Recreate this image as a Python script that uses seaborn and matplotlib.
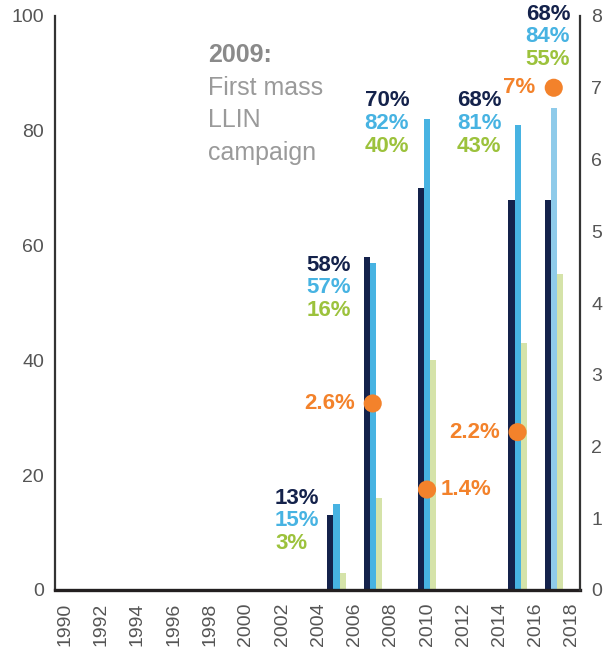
import matplotlib
matplotlib.use("Agg")
import matplotlib.pyplot as plt
import pandas as pd
import seaborn as sns

# ---------- data ----------
survey_years = [2005, 2007, 2010, 2015, 2017]
own_net = [13, 58, 70, 68, 68]      # navy bars
access_net = [15, 57, 82, 81, 84]   # blue bars
used_net = [3, 16, 40, 43, 55]      # pale green bars

parasite_years = [2007, 2010, 2015, 2017]
parasite_pct = [2.6, 1.4, 2.2, 7]   # orange dots, right axis

tick_years = list(range(1990, 2019, 2))
left_ticks = [0, 20, 40, 60, 80, 100]
right_ticks = list(range(0, 9))

# ---------- style ----------
NAVY = "#14224b"
BLUE = "#47b3e2"
LIGHT_BLUE = "#8fcbea"
PALE_GREEN = "#d5e3a9"
GREEN_TXT = "#9cc23c"
ORANGE = "#f3822b"
TICK_GREY = "#555555"

sns.set_theme(style="white")
plt.rcParams["font.family"] = ["Liberation Sans", "DejaVu Sans"]

series = ["own", "access", "use"]
df = pd.DataFrame({
    "year": survey_years * 3,
    "value": own_net + access_net + used_net,
    "series": [s for s in series for _ in survey_years],
})
palette = {"own": NAVY, "access": BLUE, "use": PALE_GREEN}

fig = plt.figure(figsize=(6.07, 6.55), dpi=100)
ax = fig.add_axes([55 / 607, 65 / 655, 525 / 607, 574 / 655])

sns.barplot(data=df, x="year", y="value", hue="series", hue_order=series,
            palette=palette, native_scale=True, width=0.5, errorbar=None,
            legend=False, saturation=1, linewidth=0, ax=ax)

# the 2017 access bar is drawn in a lighter blue
ax.containers[1][survey_years.index(2017)].set_facecolor(LIGHT_BLUE)

ax.set_xlim(1989.45, 2018.45)
ax.set_ylim(0, 100)
ax.set_xticks(tick_years)
ax.set_xticklabels([str(y) for y in tick_years], rotation=90)
ax.set_yticks(left_ticks)
ax.set_xlabel("")
ax.set_ylabel("")
ax.tick_params(axis="x", length=0, pad=9, labelsize=14, labelcolor=TICK_GREY)
ax.tick_params(axis="y", length=0, pad=8, labelsize=14, labelcolor=TICK_GREY)
for side in ["top", "right"]:
    ax.spines[side].set_visible(False)
ax.spines["bottom"].set_linewidth(2.4)
ax.spines["bottom"].set_color("#231f20")
ax.spines["left"].set_linewidth(1.6)
ax.spines["left"].set_color("#333333")

# right axis: orange dots
ax2 = ax.twinx()
sns.scatterplot(x=parasite_years, y=parasite_pct, color=ORANGE, s=170,
                edgecolor="none", ax=ax2, zorder=5, clip_on=False)
ax2.set_ylim(0, 8)
ax2.set_yticks(right_ticks)
ax2.tick_params(axis="y", length=0, pad=8, labelsize=14, labelcolor=TICK_GREY)
for side in ["top", "left", "bottom"]:
    ax2.spines[side].set_visible(False)
ax2.spines["right"].set_linewidth(1.6)
ax2.spines["right"].set_color("#333333")

label_side = ["left", "right", "left", "left"]
for yr, val, side in zip(parasite_years, parasite_pct, label_side):
    dx = -18 if side == "left" else 14
    ax2.annotate(f"{val:g}%", xy=(yr, val), xytext=(dx, 0),
                 textcoords="offset pixels", ha="right" if side == "left" else "left",
                 va="center", color=ORANGE, fontsize=16, fontweight="bold")

# stacked percentage labels next to each survey
block_pos = [(2001.6, 16.0), (2003.35, 56.6), (2006.55, 85.2),
             (2011.65, 85.2), (2015.45, 100.3)]
line_colors = [NAVY, BLUE, GREEN_TXT]
for i, (bx, by) in enumerate(block_pos):
    vals = [own_net[i], access_net[i], used_net[i]]
    for j, (v, c) in enumerate(zip(vals, line_colors)):
        ax.text(bx, by - j * 3.95, f"{v}%", color=c, fontsize=16,
                fontweight="bold", ha="left", va="center", clip_on=False,
                zorder=6)

# campaign note
ax.text(1997.9, 93.2, "2009:", color="#8a8a8a", fontsize=18,
        fontweight="bold", ha="left", va="center")
for k, line in enumerate(["First mass", "LLIN", "campaign"]):
    ax.text(1997.9, 93.2 - (k + 1) * 5.7, line, color="#9a9a9a",
            fontsize=18, ha="left", va="center")

fig.savefig("out.png", dpi=100)
